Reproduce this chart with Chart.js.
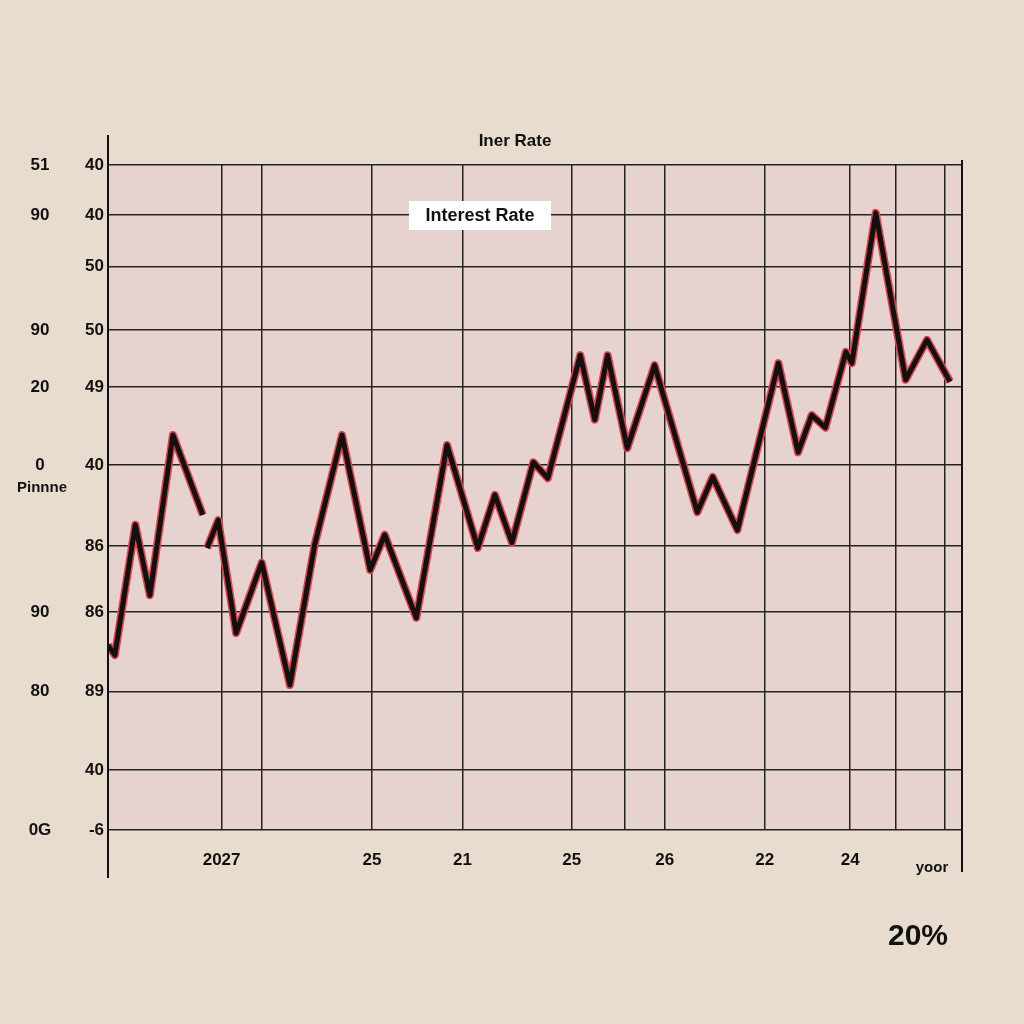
<!DOCTYPE html>
<html>
<head>
<meta charset="utf-8">
<script src="https://cdn.jsdelivr.net/npm/chart.js@4"></script>
<style>
  html, body { margin: 0; padding: 0; background: #e8dccf; }
  #wrap { width: 1024px; height: 1024px; }
</style>
</head>
<body>
<div id="wrap"><canvas id="chart" width="1024" height="1024"></canvas></div>
<script>
// data (x and y in chart units 0..100)
const xValues = [0, 0.8, 3.2, 4.9, 7.6, 11.1, null, 11.6, 12.9, 15.0, 18.0, 21.3, 24.2, 27.4, 30.7, 32.4, 36.1, 39.7, 43.3, 45.3, 47.3, 49.8, 51.5, 55.3, 57.0, 58.5, 60.8, 64.0, 69.0, 70.8, 73.7, 78.5, 80.8, 82.4, 84.0, 86.4, 87.1, 89.9, 93.4, 95.9, 98.6];
const rates = [27.8, 26.3, 45.9, 35.3, 59.4, 47.4, null, 42.4, 46.6, 29.6, 40.2, 21.8, 42.9, 59.4, 39.1, 44.4, 31.9, 57.9, 42.4, 50.4, 43.2, 55.3, 52.9, 71.4, 61.7, 71.4, 57.4, 69.9, 47.8, 53.1, 45.1, 70.2, 56.8, 62.4, 60.5, 71.9, 70.2, 92.8, 67.7, 73.7, 67.4];

const yGrid = [0, 9.0, 20.8, 32.8, 42.7, 54.9, 66.6, 75.2, 84.7, 92.5, 100];
const yTickLabels = ["-6", "40", "89", "86", "86", "40", "49", "50", "50", "40", "40"];
const yOuterLabels = ["0G", "", "80", "90", "", "0", "20", "90", "", "90", "51"];

const xGrid = [0, 13.3, 18.0, 30.9, 41.5, 54.3, 60.5, 65.2, 76.9, 86.9, 92.2, 98.0, 100];
const xTickLabels = ["", "2027", "", "25", "21", "25", "", "26", "22", "24", "", "", ""];

const points = xValues.map((x, i) => x === null ? { x: null, y: null } : { x: x, y: rates[i] });

const bold = { family: "Liberation Sans", size: 17, weight: "bold" };

const extras = {
    id: "extras",
    beforeDraw(chart) {
        const { ctx, chartArea: a } = chart;
        ctx.save();
        ctx.fillStyle = "#e6d3cf";
        ctx.fillRect(a.left, a.top, a.right - a.left, a.bottom - a.top);
        ctx.restore();
    },
    afterDraw(chart) {
        const { ctx, chartArea: a, scales } = chart;
        ctx.save();
        ctx.strokeStyle = "#111";
        ctx.lineWidth = 2;
        ctx.beginPath();
        ctx.moveTo(a.left, 135); ctx.lineTo(a.left, 878);
        ctx.moveTo(a.right, 160); ctx.lineTo(a.right, 872);
        ctx.stroke();

        ctx.fillStyle = "#111";
        ctx.font = "bold 17px 'Liberation Sans'";
        ctx.textAlign = "center";
        ctx.textBaseline = "middle";
        yGrid.forEach((v, i) => {
            if (yOuterLabels[i]) ctx.fillText(yOuterLabels[i], 40, scales.y.getPixelForValue(v));
        });
        ctx.fillText("Iner Rate", 515, 141);
        ctx.font = "bold 15px 'Liberation Sans'";
        ctx.fillText("yoor", 932, 868);
        ctx.fillText("Pinnne", 42, 488);
        ctx.font = "bold 30px 'Liberation Sans'";
        ctx.fillText("20%", 918, 937);

        ctx.fillStyle = "#ffffff";
        ctx.fillRect(409, 201, 142, 29);
        ctx.fillStyle = "#111";
        ctx.font = "bold 18px 'Liberation Sans'";
        ctx.fillText("Interest Rate", 480, 216);
        ctx.restore();
    }
};

new Chart(document.getElementById("chart"), {
    type: "line",
    data: {
        datasets: [
            { data: points, borderColor: "#111", borderWidth: 5, borderJoinStyle: "round", pointRadius: 0, tension: 0, spanGaps: false, order: 1 },
            { data: points, borderColor: "#e8404a", borderWidth: 8, borderJoinStyle: "round", pointRadius: 0, tension: 0, spanGaps: false, order: 2 }
        ]
    },
    options: {
        responsive: false,
        animation: false,
        layout: { padding: { top: 165, right: 62, bottom: 134, left: 0 } },
        plugins: { legend: { display: false }, tooltip: { enabled: false } },
        scales: {
            x: {
                type: "linear", min: 0, max: 100,
                afterBuildTicks: s => { s.ticks = xGrid.map(v => ({ value: v })); },
                afterFit: s => { s.height = 60; },
                grid: { color: "#222", lineWidth: 1.5, drawTicks: false },
                border: { display: false },
                ticks: {
                    color: "#111", font: bold, padding: 20, maxRotation: 0, autoSkip: false,
                    callback: (v, i) => xTickLabels[i]
                }
            },
            y: {
                type: "linear", min: 0, max: 100,
                afterBuildTicks: s => { s.ticks = yGrid.map(v => ({ value: v })); },
                afterFit: s => { s.width = 108; },
                grid: { color: "#222", lineWidth: 1.5, drawTicks: false },
                border: { display: false },
                ticks: {
                    color: "#111", font: bold, padding: 4, autoSkip: false,
                    callback: (v, i) => yTickLabels[i]
                }
            }
        }
    },
    plugins: [extras]
});
</script>
</body>
</html>
